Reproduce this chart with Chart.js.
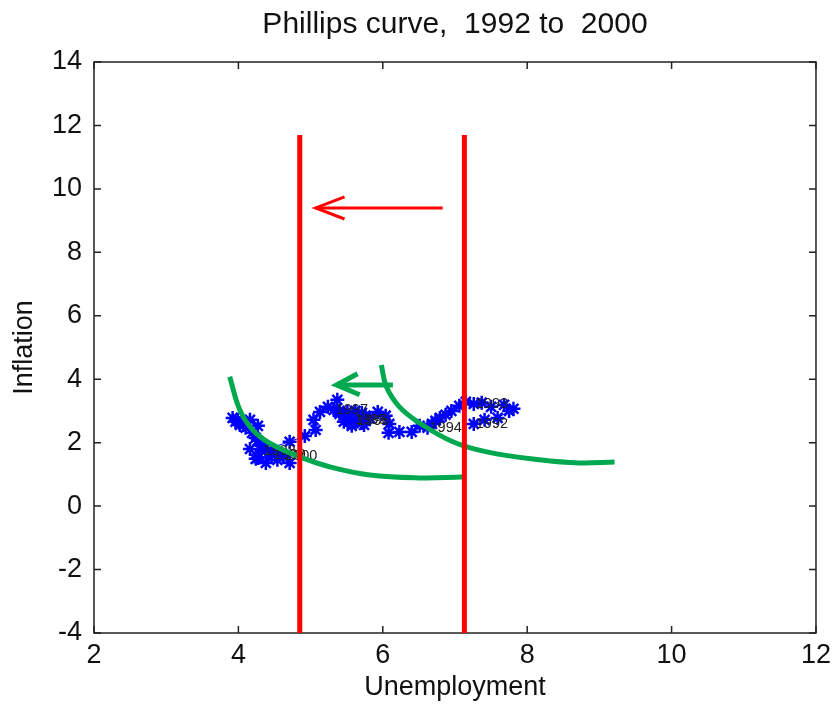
<!DOCTYPE html>
<html>
<head>
<meta charset="utf-8">
<script src="https://cdn.jsdelivr.net/npm/chart.js@4.4.1/dist/chart.umd.min.js"></script>
<style>
  html, body { margin: 0; padding: 0; background: #fff; }
</style>
</head>
<body>
<canvas id="chart" width="837" height="706"></canvas>
<script>
// Monthly path of (unemployment, inflation)
const unemployment = [
  7.26, 7.41, 7.59, 7.75, 7.81, 7.68, 7.50, 7.37,   // 1992
  7.26, 7.15, 7.06, 6.95, 6.87, 6.79, 6.73, 6.68,   // 1993
  6.62, 6.51, 6.40, 6.23, 6.08, 6.09, 6.04, 5.93,   // 1994
  5.58, 5.71, 5.82, 5.74, 5.57, 5.49, 5.62, 5.76,   // 1995
  5.62, 5.51, 5.40, 5.46, 5.57, 5.71, 5.54, 5.40,   // 1996
  5.32, 5.37, 5.24, 5.13, 5.04, 5.07, 4.92, 4.71,   // 1997
  4.32, 4.24, 4.38, 4.54, 4.71, 4.62, 4.46, 4.32,   // 1998
  4.46, 4.27, 4.16, 4.27, 4.19, 4.27, 4.16, 4.07,   // 1999
  4.62, 4.37, 4.24, 4.10, 3.99, 3.92, 4.02, 3.96    // 2000
];
const inflation = [
  2.59, 2.72, 2.78, 3.00, 3.07, 3.19, 3.13, 3.26,
  3.22, 3.29, 3.16, 3.00, 2.88, 2.78, 2.69, 2.59,
  2.47, 2.53, 2.34, 2.34, 2.31, 2.59, 2.85, 2.97,
  2.72, 2.94, 2.78, 2.56, 2.59, 2.85, 3.00, 2.85,
  2.69, 2.97, 2.91, 2.66, 2.53, 2.62, 2.78, 3.00,
  3.03, 3.35, 3.13, 2.97, 2.72, 2.40, 2.21, 2.03,
  1.74, 1.49, 1.36, 1.46, 1.36, 1.62, 1.71, 1.90,
  1.62, 1.52, 1.80, 2.06, 2.31, 2.53, 2.72, 2.56,
  1.58, 1.84, 2.15, 2.47, 2.72, 2.78, 2.56, 2.66
];
const yearNames = ['1992', '1993', '1994', '1995', '1996', '1997', '1998', '1999', '2000'];
const yearStart = [0, 8, 16, 24, 32, 40, 48, 56, 64];

// red vertical lines (natural rate before / after) and red arrow
const redLinesX = [4.85, 7.13];
const redLineY = [-4, 11.7];
const redArrowX = [6.83, 5.07];
const redArrowY = 9.4;
const redHeadX = [5.47, 5.07, 5.47];
const redHeadY = [9.75, 9.4, 9.05];

// green short-run curves and green arrow
const greenCurve1X = [3.88, 4.02, 4.20, 4.43, 4.85, 5.26, 5.82, 6.51, 7.10];
const greenCurve1Y = [4.08, 3.03, 2.40, 1.99, 1.55, 1.24, 0.98, 0.89, 0.92];
const greenCurve2X = [5.98, 6.05, 6.23, 6.51, 6.97, 7.44, 8.17, 8.72, 9.21];
const greenCurve2Y = [4.45, 3.76, 3.13, 2.62, 2.03, 1.71, 1.46, 1.36, 1.39];
const greenArrowX = [6.14, 5.36];
const greenArrowY = 3.82;
const greenHeadX = [5.65, 5.36, 5.68];
const greenHeadY = [4.17, 3.82, 3.51];

const RED = '#ff0000';
const GREEN = '#00a84f';
const BLUE = '#0000ff';

function pts(xs, ys) {
  return xs.map((x, i) => ({x: x, y: Array.isArray(ys) ? ys[i] : ys}));
}

function lineSet(data, color, width, tension) {
  return {
    data: data,
    showLine: true,
    borderColor: color,
    backgroundColor: color,
    borderWidth: width,
    pointRadius: 0,
    tension: tension || 0,
    borderCapStyle: 'butt'
  };
}

const datasets = [
  lineSet(pts([redLinesX[0], redLinesX[0]], redLineY), RED, 5),
  lineSet(pts([redLinesX[1], redLinesX[1]], redLineY), RED, 5),
  lineSet(pts(redArrowX, [redArrowY, redArrowY]), RED, 3),
  lineSet(pts(redHeadX, redHeadY), RED, 3),
  lineSet(pts(greenCurve1X, greenCurve1Y), GREEN, 5, 0.4),
  lineSet(pts(greenCurve2X, greenCurve2Y), GREEN, 5, 0.4),
  lineSet(pts(greenArrowX, [greenArrowY, greenArrowY]), GREEN, 5),
  lineSet(pts(greenHeadX, greenHeadY), GREEN, 5),
  {
    data: pts(unemployment, inflation),
    showLine: true,
    borderColor: BLUE,
    backgroundColor: BLUE,
    borderWidth: 1,
    pointStyle: 'star',
    pointRadius: 7,
    pointBorderWidth: 2.5,
    pointBorderColor: BLUE
  }
];
const BLUE_INDEX = datasets.length - 1;

// matlab style box with ticks pointing inwards
const boxPlugin = {
  id: 'box',
  beforeDatasetsDraw(chart) {
    const {ctx, chartArea: a, scales} = chart;
    const len = 7;
    ctx.save();
    ctx.strokeStyle = '#222';
    ctx.lineWidth = 1.5;
    ctx.strokeRect(a.left, a.top, a.right - a.left, a.bottom - a.top);
    ctx.beginPath();
    scales.x.ticks.forEach(t => {
      const px = scales.x.getPixelForValue(t.value);
      ctx.moveTo(px, a.bottom); ctx.lineTo(px, a.bottom - len);
      ctx.moveTo(px, a.top); ctx.lineTo(px, a.top + len);
    });
    scales.y.ticks.forEach(t => {
      const py = scales.y.getPixelForValue(t.value);
      ctx.moveTo(a.left, py); ctx.lineTo(a.left + len, py);
      ctx.moveTo(a.right, py); ctx.lineTo(a.right - len, py);
    });
    ctx.stroke();
    ctx.restore();
  }
};

// year names next to the first point of each year
const yearPlugin = {
  id: 'years',
  afterDatasetDraw(chart, args) {
    if (args.index !== BLUE_INDEX) return;
    const {ctx, scales} = chart;
    ctx.save();
    ctx.font = '14.5px "Liberation Sans", Arial, sans-serif';
    ctx.fillStyle = '#222';
    ctx.textBaseline = 'middle';
    yearNames.forEach((name, i) => {
      const k = yearStart[i];
      const px = scales.x.getPixelForValue(unemployment[k]);
      const py = scales.y.getPixelForValue(inflation[k]);
      ctx.fillText(name, px + 2, py);
    });
    ctx.restore();
  }
};

const font = size => ({family: '"Liberation Sans", Arial, sans-serif', size: size});

new Chart(document.getElementById('chart').getContext('2d'), {
  type: 'scatter',
  data: {datasets: datasets},
  options: {
    responsive: false,
    animation: false,
    devicePixelRatio: 1,
    layout: {padding: {left: 0, right: 20, top: 0, bottom: 0}},
    plugins: {
      legend: {display: false},
      tooltip: {enabled: false},
      title: {
        display: true,
        fullSize: false,
        text: 'Phillips curve,  1992 to  2000',
        color: '#111',
        font: Object.assign(font(30), {weight: 'normal'}),
        padding: {top: 7, bottom: 19}
      }
    },
    scales: {
      x: {
        type: 'linear',
        min: 2, max: 12,
        ticks: {stepSize: 2, color: '#111', font: font(27), padding: 6, maxRotation: 0},
        grid: {drawOnChartArea: false, drawTicks: false},
        border: {display: false},
        title: {display: true, text: 'Unemployment', color: '#111', font: font(27), padding: {top: 0, bottom: 2}},
        afterFit: s => { s.height = 73; }
      },
      y: {
        type: 'linear',
        min: -4, max: 14,
        ticks: {stepSize: 2, color: '#111', font: font(27), padding: 12},
        grid: {drawOnChartArea: false, drawTicks: false},
        border: {display: false},
        title: {display: true, text: 'Inflation', color: '#111', font: font(27), padding: {top: 8, bottom: 0}},
        afterFit: s => { s.width = 94; }
      }
    }
  },
  plugins: [boxPlugin, yearPlugin]
});
</script>
</body>
</html>
